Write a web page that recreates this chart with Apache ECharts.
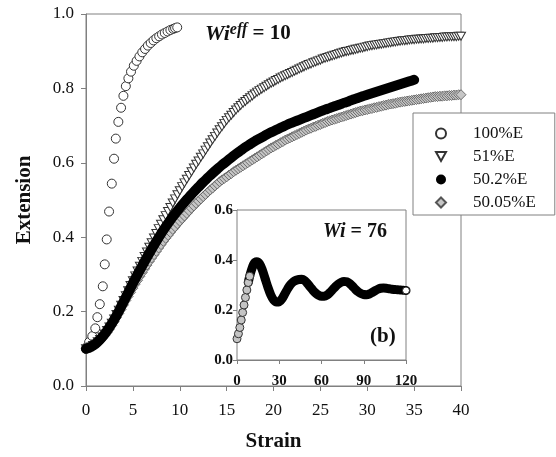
<!DOCTYPE html>
<html>
<head>
<meta charset="utf-8">
<script src="https://cdn.jsdelivr.net/npm/echarts@6/dist/echarts.min.js"></script>
<style>
html, body { margin: 0; padding: 0; background: #fff; }
#chart { width: 556px; height: 457px; }
</style>
</head>
<body>
<div id="chart"></div>
<script>
// fine strain grid (0.25) for the 51% and 50.05% runs
var strainFine = [];
var ext51 = [
  0.100,0.102,0.105,0.109, 0.113,0.119,0.125,0.132, 0.140,0.149,0.159,0.169, 0.180,0.192,0.204,0.217,
  0.230,0.243,0.256,0.270, 0.283,0.296,0.309,0.322, 0.335,0.348,0.360,0.373, 0.385,0.398,0.410,0.423,
  0.435,0.447,0.458,0.469, 0.480,0.492,0.503,0.514, 0.525,0.536,0.546,0.556, 0.566,0.576,0.586,0.596,
  0.605,0.615,0.624,0.634, 0.643,0.653,0.662,0.671, 0.680,0.689,0.697,0.706, 0.714,0.721,0.728,0.735,
  0.742,0.748,0.754,0.760, 0.765,0.770,0.775,0.780, 0.785,0.790,0.794,0.798, 0.802,0.806,0.810,0.814,
  0.817,0.821,0.824,0.828, 0.831,0.834,0.837,0.840, 0.843,0.846,0.849,0.852, 0.855,0.858,0.861,0.864,
  0.866,0.869,0.871,0.874, 0.876,0.879,0.881,0.883, 0.885,0.887,0.889,0.891, 0.893,0.895,0.897,0.899,
  0.900,0.902,0.903,0.905, 0.906,0.908,0.909,0.911, 0.912,0.914,0.915,0.916, 0.917,0.918,0.919,0.920,
  0.921,0.922,0.923,0.924, 0.925,0.926,0.927,0.928, 0.928,0.929,0.930,0.931, 0.931,0.932,0.932,0.933,
  0.933,0.934,0.934,0.935, 0.935,0.936,0.936,0.937, 0.937,0.938,0.938,0.939, 0.939,0.939,0.939,0.940,
  0.940];
var ext5005 = [
  0.100,0.102,0.104,0.107, 0.111,0.116,0.122,0.129, 0.136,0.144,0.153,0.163, 0.173,0.184,0.195,0.206,
  0.218,0.230,0.241,0.252, 0.263,0.274,0.284,0.295, 0.305,0.315,0.325,0.335, 0.344,0.353,0.362,0.371,
  0.380,0.389,0.397,0.405, 0.413,0.421,0.428,0.436, 0.443,0.450,0.457,0.464, 0.471,0.478,0.484,0.491,
  0.497,0.503,0.509,0.515, 0.521,0.527,0.532,0.538, 0.543,0.549,0.554,0.558, 0.562,0.567,0.571,0.576,
  0.580,0.584,0.588,0.592, 0.596,0.600,0.604,0.608, 0.612,0.616,0.620,0.624, 0.628,0.632,0.636,0.640,
  0.643,0.647,0.650,0.654, 0.657,0.661,0.664,0.667, 0.670,0.673,0.676,0.679, 0.682,0.685,0.688,0.691,
  0.693,0.696,0.698,0.701, 0.703,0.706,0.708,0.711, 0.713,0.715,0.717,0.719, 0.721,0.723,0.725,0.727,
  0.729,0.731,0.733,0.735, 0.737,0.739,0.740,0.742, 0.743,0.745,0.746,0.748, 0.749,0.751,0.752,0.754,
  0.755,0.757,0.758,0.759, 0.760,0.762,0.763,0.764, 0.765,0.766,0.767,0.768, 0.769,0.770,0.771,0.772,
  0.773,0.774,0.775,0.776, 0.777,0.778,0.778,0.779, 0.779,0.780,0.780,0.781, 0.781,0.782,0.782,0.783,
  0.783];
for (var k = 0; k < ext51.length; k++) strainFine.push(k * 0.25);

// 50.2%E, every 0.5 strain up to 35
var strain502 = [0,0.5,1,1.5,2,2.5,3,3.5,4,4.5,5,5.5,6,6.5,7,7.5,8,8.5,9,9.5,
  10,10.5,11,11.5,12,12.5,13,13.5,14,14.5,15,15.5,16,16.5,17,17.5,18,18.5,19,19.5,
  20,20.5,21,21.5,22,22.5,23,23.5,24,24.5,25,25.5,26,26.5,27,27.5,28,28.5,29,29.5,
  30,30.5,31,31.5,32,32.5,33,33.5,34,34.5,35];
var ext502 = [0.100,0.105,0.113,0.125,0.140,0.158,0.178,0.201,0.226,0.251,
  0.276,0.300,0.323,0.346,0.368,0.389,0.409,0.428,0.446,0.463,
  0.479,0.494,0.508,0.522,0.535,0.548,0.560,0.572,0.583,0.594,
  0.604,0.614,0.624,0.633,0.642,0.650,0.658,0.665,0.672,0.679,
  0.685,0.691,0.697,0.703,0.708,0.713,0.718,0.723,0.728,0.733,
  0.738,0.743,0.747,0.752,0.756,0.761,0.765,0.770,0.774,0.779,
  0.783,0.787,0.791,0.795,0.799,0.803,0.807,0.811,0.815,0.819,
  0.823];

// 100%E has its own strain samples
var strain100 = [0,0.33,0.67,0.99,1.21,1.47,1.79,2.0,2.21,2.46,2.75,2.99,3.18,3.45,3.74,3.99,4.25,4.52,
  4.8,5.1,5.4,5.7,6.0,6.3,6.6,6.9,7.2,7.5,7.8,8.1,8.4,8.7,9.0,9.3,9.5,9.73];
var ext100 = [0.100,0.118,0.134,0.155,0.185,0.220,0.268,0.327,0.394,0.469,0.544,0.611,0.665,0.710,0.748,0.780,0.806,0.827,
  0.845,0.861,0.874,0.886,0.897,0.906,0.915,0.922,0.929,0.935,0.940,0.945,0.949,0.953,0.957,0.960,0.962,0.964];

// inset (b), Wi = 76
var insetStrain = [0,1,2,3,4,5,6,7,8,9,10,11,12,13,14,
  16,18,20,22,24,26,28,30,32,34,36,38,
  40,42,44,46,48,50,52,54,56,58,60,62,64,66,68,70,72,74,76,78,
  80,82,84,86,88,90,92,94,96,98,100,102,104,106,108,110,112,114,116,118,120];
var insetExt = [0.085,0.105,0.130,0.160,0.190,0.220,0.250,0.280,0.310,0.335,0.355,0.372,0.385,0.391,0.393,
  0.385,0.360,0.325,0.290,0.260,0.240,0.232,0.233,0.245,0.265,0.285,0.302,
  0.313,0.319,0.322,0.323,0.318,0.306,0.292,0.278,0.267,0.259,0.255,0.255,0.260,0.270,0.282,0.294,0.304,0.311,0.314,0.313,
  0.306,0.295,0.283,0.273,0.266,0.262,0.261,0.264,0.270,0.277,0.283,0.287,0.288,0.287,0.285,0.283,0.282,0.281,0.280,0.279,0.278];
var insetOpenCount = 10; // early points drawn as open grey circles

function pairs(xs, ys) {
  return ys.map(function (y, i) { return [xs[i], y]; });
}

var serif = 'Liberation Serif';
var axisGray = '#808080';
var insetPts = pairs(insetStrain, insetExt);
var lastPt = insetPts[insetPts.length - 1];

var myChart = echarts.init(document.getElementById('chart'));
var option = {
  backgroundColor: '#fff',
  animation: false,
  grid: [
    { left: 86, top: 14, right: 95, bottom: 70, show: true, borderColor: axisGray, borderWidth: 1 },
    { left: 237, top: 210, right: 150, bottom: 97, show: true, borderColor: axisGray, borderWidth: 1,
      backgroundColor: '#fff', z: 3 }
  ],
  legend: {
    orient: 'vertical',
    left: 413, top: 113,
    padding: [12, 19, 4, 22],
    itemGap: 6,
    itemWidth: 10, itemHeight: 10,
    backgroundColor: '#fff',
    borderColor: axisGray, borderWidth: 1,
    textStyle: { fontFamily: serif, fontSize: 17, color: '#111', padding: [0, 0, 0, 22] },
    data: ['100%E', '51%E', { name: '50.2%E', icon: 'circle' }, '50.05%E'],
    z: 10
  },
  xAxis: [
    {
      type: 'value', gridIndex: 0, min: 0, max: 40, interval: 5,
      name: 'Strain', nameLocation: 'middle', nameGap: 45,
      nameTextStyle: { fontFamily: serif, fontSize: 21, fontWeight: 'bold', color: '#111' },
      axisLine: { show: true, lineStyle: { color: axisGray } },
      axisTick: { show: true, length: 5, lineStyle: { color: axisGray } },
      axisLabel: { fontFamily: serif, fontSize: 17, color: '#111', margin: 16 },
      splitLine: { show: false }
    },
    {
      type: 'value', gridIndex: 1, min: 0, max: 120, interval: 30,
      axisLine: { show: true, lineStyle: { color: axisGray } },
      axisTick: { show: true, length: 4, lineStyle: { color: axisGray } },
      axisLabel: { fontFamily: serif, fontSize: 15, fontWeight: 'bold', color: '#111', margin: 14 },
      splitLine: { show: false }
    }
  ],
  yAxis: [
    {
      type: 'value', gridIndex: 0, min: 0, max: 1, interval: 0.2,
      name: 'Extension', nameLocation: 'middle', nameGap: 51,
      nameTextStyle: { fontFamily: serif, fontSize: 21, fontWeight: 'bold', color: '#111' },
      axisLine: { show: true, lineStyle: { color: axisGray } },
      axisTick: { show: true, length: 5, lineStyle: { color: axisGray } },
      axisLabel: { fontFamily: serif, fontSize: 17, color: '#111', margin: 12,
        formatter: function (v) { return v.toFixed(1); } },
      splitLine: { show: false }
    },
    {
      type: 'value', gridIndex: 1, min: 0, max: 0.6, interval: 0.2,
      axisLine: { show: true, lineStyle: { color: axisGray } },
      axisTick: { show: true, length: 4, lineStyle: { color: axisGray } },
      axisLabel: { fontFamily: serif, fontSize: 15, fontWeight: 'bold', color: '#111', margin: 4,
        formatter: function (v) { return v.toFixed(1); } },
      splitLine: { show: false }
    }
  ],
  series: [
    {
      name: '100%E', type: 'scatter', xAxisIndex: 0, yAxisIndex: 0,
      symbol: 'circle', symbolSize: 9,
      itemStyle: { color: '#fff', borderColor: '#333', borderWidth: 1, opacity: 1 },
      data: pairs(strain100, ext100)
    },
    {
      name: '51%E', type: 'scatter', xAxisIndex: 0, yAxisIndex: 0,
      symbol: 'path://M0,0L10,0L5,9Z', symbolSize: [9, 8],
      itemStyle: { color: '#fff', borderColor: '#333', borderWidth: 1, opacity: 1 },
      data: pairs(strainFine, ext51)
    },
    {
      name: '50.2%E', type: 'line', xAxisIndex: 0, yAxisIndex: 0,
      showSymbol: false, smooth: 0.3,
      itemStyle: { color: '#000' },
      lineStyle: { color: '#000', width: 10, cap: 'round', join: 'round' },
      data: pairs(strain502, ext502)
    },
    {
      name: '50.05%E', type: 'scatter', xAxisIndex: 0, yAxisIndex: 0,
      symbol: 'path://M5,0L10,5L5,10L0,5Z', symbolSize: 10,
      itemStyle: { color: '#c6c6c6', borderColor: '#555', borderWidth: 0.8, opacity: 1 },
      data: pairs(strainFine, ext5005)
    },
    {
      name: 'Wi76', type: 'line', xAxisIndex: 1, yAxisIndex: 1,
      showSymbol: false, smooth: 0.3, z: 4,
      lineStyle: { color: '#000', width: 9, cap: 'round', join: 'round' },
      data: insetPts.slice(insetOpenCount - 2)
    },
    {
      name: 'Wi76start', type: 'scatter', xAxisIndex: 1, yAxisIndex: 1,
      symbol: 'circle', symbolSize: 8, z: 5,
      itemStyle: { color: '#c4c4c4', borderColor: '#333', borderWidth: 1, opacity: 1 },
      data: insetPts.slice(0, insetOpenCount)
    },
    {
      name: 'Wi76end', type: 'scatter', xAxisIndex: 1, yAxisIndex: 1,
      symbol: 'circle', symbolSize: 7, z: 5,
      itemStyle: { color: '#fff', borderColor: '#222', borderWidth: 1, opacity: 1 },
      data: [lastPt]
    }
  ],
  graphic: [
    {
      type: 'text', left: 205, top: 22, z: 20,
      style: {
        text: '{w|Wi}{s|eff}{b| = 10}',
        rich: {
          w: { fontFamily: serif, fontSize: 22, fontWeight: 'bold', fontStyle: 'italic', fill: '#111', lineHeight: 24 },
          s: { fontFamily: serif, fontSize: 16, fontWeight: 'bold', fontStyle: 'italic', fill: '#111', verticalAlign: 'top' },
          b: { fontFamily: serif, fontSize: 21, fontWeight: 'bold', fill: '#111', lineHeight: 24 }
        }
      }
    },
    {
      type: 'text', left: 323, top: 222, z: 20,
      style: {
        text: '{w|Wi}{b| = 76}',
        rich: {
          w: { fontFamily: serif, fontSize: 20, fontWeight: 'bold', fontStyle: 'italic', fill: '#111' },
          b: { fontFamily: serif, fontSize: 20, fontWeight: 'bold', fill: '#111' }
        }
      }
    },
    {
      type: 'text', left: 370, top: 326, z: 20,
      style: { text: '(b)', fontFamily: serif, fontSize: 21, fontWeight: 'bold', fill: '#111' }
    }
  ]
};
myChart.setOption(option);
</script>
</body>
</html>
